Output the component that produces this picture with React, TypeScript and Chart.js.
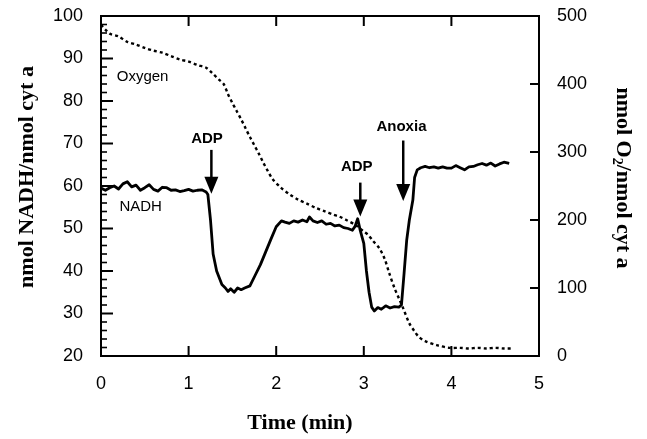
import React, { useEffect, useRef } from "react";
import { Chart, registerables } from "chart.js";

Chart.register(...registerables);

// NADH trace (left axis, nmol NADH/nmol cyt a)
const nadhTime = [
  0.0, 0.05, 0.1, 0.15, 0.2, 0.25, 0.3, 0.35, 0.4, 0.45, 0.5, 0.55, 0.6, 0.65, 0.7, 0.75, 0.8, 0.85, 0.9, 0.95,
  1.0, 1.05, 1.1, 1.15, 1.2, 1.22, 1.25, 1.28, 1.32, 1.38, 1.42, 1.45, 1.48, 1.52, 1.56, 1.6, 1.64, 1.7, 1.76,
  1.82, 1.88, 1.94, 2.0, 2.06, 2.1, 2.15, 2.2, 2.25, 2.3, 2.35, 2.38, 2.42, 2.47, 2.52, 2.57, 2.62, 2.67, 2.72,
  2.77, 2.82, 2.87, 2.9, 2.93, 2.96, 3.0, 3.03, 3.06, 3.09, 3.12, 3.16, 3.2, 3.25, 3.3, 3.35, 3.4, 3.43, 3.46,
  3.49, 3.52, 3.56, 3.58, 3.61, 3.65, 3.7, 3.75, 3.8, 3.85, 3.9, 3.95, 4.0, 4.05, 4.1, 4.15, 4.2, 4.25, 4.3, 4.35,
  4.4, 4.45, 4.5, 4.55, 4.6, 4.66,
];
const nadhValues = [
  59.5, 59.0, 59.6, 60.0, 59.3, 60.5, 61.0, 59.8, 60.2, 59.0, 59.6, 60.3, 59.2, 58.8, 59.7, 59.6, 59.0, 59.1, 58.7, 58.9,
  59.2, 58.8, 59.0, 59.1, 58.6, 58.0, 52.0, 44.0, 40.0, 36.8, 36.0, 35.2, 35.8, 35.0, 36.0, 35.6, 36.0, 36.5, 39.0,
  41.5, 44.5, 47.5, 50.4, 51.8, 51.5, 51.2, 51.8, 51.5, 52.0, 51.6, 52.7, 51.8, 51.4, 51.8, 51.0, 51.2, 50.6, 50.8,
  50.2, 50.0, 49.6, 50.5, 52.3, 49.5, 46.5, 40.0, 35.0, 31.5, 30.6, 31.4, 31.0, 31.8, 31.3, 31.6, 31.5, 32.0, 39.5,
  47.3, 52.0, 56.7, 62.0, 63.8, 64.3, 64.6, 64.3, 64.5, 64.2, 64.5, 64.2, 64.2, 64.8, 64.3, 63.8, 64.5, 64.6, 65.0,
  65.3, 64.9, 65.4, 64.7, 65.2, 65.6, 65.3,
];

// Oxygen trace (right axis, nmol O2/nmol cyt a)
const oxygenTime = [
  0.0, 0.05, 0.1, 0.2, 0.3, 0.4, 0.5, 0.6, 0.7, 0.8, 0.9, 1.0, 1.1, 1.2, 1.27, 1.35, 1.4, 1.45, 1.5, 1.55, 1.6, 1.65,
  1.7, 1.75, 1.8, 1.85, 1.9, 1.96, 2.05, 2.15, 2.25, 2.35, 2.45, 2.55, 2.65, 2.72, 2.8, 2.9, 3.0, 3.05, 3.1, 3.18,
  3.24, 3.29, 3.35, 3.4, 3.45, 3.52, 3.58, 3.63, 3.7, 3.83, 3.98, 4.1, 4.2, 4.3, 4.4, 4.5, 4.6, 4.68,
];
const oxygenValues = [
  487, 480, 474, 470, 462, 458, 453, 449, 446, 441, 436, 433, 428, 424, 416, 406, 400, 385, 372, 360, 348, 335,
  322, 310, 298, 285, 273, 260, 248, 238, 230, 224, 218, 213, 208, 205, 200, 193, 183, 178, 170, 158,
  142, 122, 100, 85, 70, 48, 36, 28, 22, 16, 12, 12, 11, 12, 11, 12, 11, 11,
];

const xTicks = [0, 1, 2, 3, 4, 5];
const leftTicks = [20, 30, 40, 50, 60, 70, 80, 90, 100];
const rightTicks = [0, 100, 200, 300, 400, 500];

// Annotations: [text, textX, textY(left axis), arrowX, arrowFrom, arrowTo]
const arrowNotes: [string, number, number, number, number, number][] = [
  ["ADP", 1.21, 71.2, 1.26, 68.5, 58.2],
  ["ADP", 2.92, 64.4, 2.96, 60.8, 52.8],
  ["Anoxia", 3.43, 73.8, 3.45, 70.7, 56.5],
];
const seriesLabels: [string, number, number][] = [
  ["Oxygen", 0.18, 85.6],
  ["NADH", 0.21, 55.0],
];

const SANS = '"Liberation Sans", Arial, Helvetica, sans-serif';
const SERIF = '"Liberation Serif", "Times New Roman", serif';

const decor = {
  id: "decor",
  afterDraw(chart: any) {
    const ctx = chart.ctx;
    const ca = chart.chartArea;
    const xs = chart.scales.x;
    const ys = chart.scales.y;
    const y2 = chart.scales.y2;
    ctx.save();
    ctx.strokeStyle = "#000";
    ctx.fillStyle = "#000";
    ctx.lineWidth = 2;
    ctx.strokeRect(ca.left, ca.top, ca.right - ca.left, ca.bottom - ca.top);

    // x ticks (bottom and top, inward)
    ctx.lineWidth = 2;
    for (const t of xTicks.slice(1, -1)) {
      const px = xs.getPixelForValue(t);
      ctx.beginPath();
      ctx.moveTo(px, ca.bottom);
      ctx.lineTo(px, ca.bottom - 10);
      ctx.moveTo(px, ca.top);
      ctx.lineTo(px, ca.top + 10);
      ctx.stroke();
    }
    // left ticks major + minor
    for (let v = 20; v <= 100; v += 2) {
      const py = ys.getPixelForValue(v);
      const major = v % 10 === 0;
      ctx.lineWidth = major ? 2 : 1.6;
      ctx.beginPath();
      ctx.moveTo(ca.left, py);
      ctx.lineTo(ca.left + (major ? 12 : 6), py);
      ctx.stroke();
    }
    // right ticks
    ctx.lineWidth = 2;
    for (const v of rightTicks.slice(1, -1)) {
      const py = y2.getPixelForValue(v);
      ctx.beginPath();
      ctx.moveTo(ca.right, py);
      ctx.lineTo(ca.right - 9, py);
      ctx.stroke();
    }

    // series labels
    ctx.font = `15px ${SANS}`;
    ctx.textAlign = "left";
    ctx.textBaseline = "middle";
    for (const [txt, tx, ty] of seriesLabels) {
      ctx.fillText(txt, xs.getPixelForValue(tx), ys.getPixelForValue(ty));
    }

    // arrows + labels
    for (const [txt, tx, ty, ax, a0, a1] of arrowNotes) {
      ctx.font = `bold 15px ${SANS}`;
      ctx.textAlign = "center";
      ctx.textBaseline = "middle";
      ctx.fillText(txt, xs.getPixelForValue(tx), ys.getPixelForValue(ty));
      const px = xs.getPixelForValue(ax);
      const p0 = ys.getPixelForValue(a0);
      const p1 = ys.getPixelForValue(a1);
      ctx.lineWidth = 2.5;
      ctx.beginPath();
      ctx.moveTo(px, p0);
      ctx.lineTo(px, p1 - 12);
      ctx.stroke();
      ctx.beginPath();
      ctx.moveTo(px, p1);
      ctx.lineTo(px - 7, p1 - 17);
      ctx.lineTo(px + 7, p1 - 17);
      ctx.closePath();
      ctx.fill();
    }

    // axis titles
    ctx.font = `bold 22px ${SERIF}`;
    ctx.textAlign = "center";
    ctx.textBaseline = "middle";
    ctx.fillText("Time (min)", 300, 423);

    ctx.save();
    ctx.translate(27, 177);
    ctx.rotate(-Math.PI / 2);
    ctx.fillText("nmol NADH/nmol cyt a", 0, 0);
    ctx.restore();

    ctx.save();
    ctx.translate(624, 178);
    ctx.rotate(Math.PI / 2);
    const big = `bold 22px ${SERIF}`;
    const small = `bold 14px ${SERIF}`;
    const p1 = "nmol O";
    const p2 = "2";
    const p3 = "/nmol cyt a";
    ctx.font = big;
    const w1 = ctx.measureText(p1).width;
    const w3 = ctx.measureText(p3).width;
    ctx.font = small;
    const w2 = ctx.measureText(p2).width;
    let sx = -(w1 + w2 + w3) / 2;
    ctx.textAlign = "left";
    ctx.textBaseline = "alphabetic";
    ctx.font = big;
    ctx.fillText(p1, sx, 7);
    sx += w1;
    ctx.font = small;
    ctx.fillText(p2, sx, 11);
    sx += w2;
    ctx.font = big;
    ctx.fillText(p3, sx, 7);
    ctx.restore();

    ctx.restore();
  },
};

const zeroPad = (s: any) => {
  s.paddingTop = 0;
  s.paddingBottom = 0;
  s.paddingLeft = 0;
  s.paddingRight = 0;
};

export default function App() {
  const ref = useRef<HTMLCanvasElement>(null);
  useEffect(() => {
    document.body.style.margin = "0";
    const chart = new Chart(ref.current as HTMLCanvasElement, {
      type: "line",
      data: {
        datasets: [
          {
            label: "NADH",
            data: nadhTime.map((t, i) => ({ x: t, y: nadhValues[i] })),
            yAxisID: "y",
            borderColor: "#000",
            borderWidth: 2.8,
            pointRadius: 0,
            tension: 0,
            borderJoinStyle: "round",
          },
          {
            label: "Oxygen",
            data: oxygenTime.map((t, i) => ({ x: t, y: oxygenValues[i] })),
            yAxisID: "y2",
            borderColor: "#000",
            borderWidth: 2.4,
            borderDash: [3, 3],
            pointRadius: 0,
            tension: 0.3,
          },
        ],
      },
      options: {
        animation: false,
        responsive: false,
        devicePixelRatio: 1,
        layout: { padding: { top: 16, left: 0, right: 0, bottom: 0 } },
        plugins: { legend: { display: false }, tooltip: { enabled: false } },
        scales: {
          x: {
            type: "linear",
            min: 0,
            max: 5,
            afterFit: (s: any) => { s.height = 83; zeroPad(s); },
            afterBuildTicks: (s: any) => { s.ticks = xTicks.map((v) => ({ value: v })); },
            grid: { display: false, drawTicks: false },
            border: { display: false },
            ticks: { color: "#000", padding: 17, font: { family: SANS, size: 18 } },
          },
          y: {
            type: "linear",
            position: "left",
            min: 20,
            max: 100,
            afterFit: (s: any) => { s.width = 101; zeroPad(s); },
            afterBuildTicks: (s: any) => { s.ticks = leftTicks.map((v) => ({ value: v })); },
            grid: { display: false, drawTicks: false },
            border: { display: false },
            ticks: { color: "#000", padding: 18, font: { family: SANS, size: 18 } },
          },
          y2: {
            type: "linear",
            position: "right",
            min: 0,
            max: 500,
            afterFit: (s: any) => { s.width = 108; zeroPad(s); },
            afterBuildTicks: (s: any) => { s.ticks = rightTicks.map((v) => ({ value: v })); },
            grid: { display: false, drawTicks: false },
            border: { display: false },
            ticks: { color: "#000", padding: 18, font: { family: SANS, size: 18 } },
          },
        },
      },
      plugins: [decor],
    } as any);
    return () => chart.destroy();
  }, []);
  return (
    <div style={{ position: "absolute", left: 0, top: 0, width: 647, height: 439 }}>
      <canvas ref={ref} width={647} height={439} />
    </div>
  );
}
